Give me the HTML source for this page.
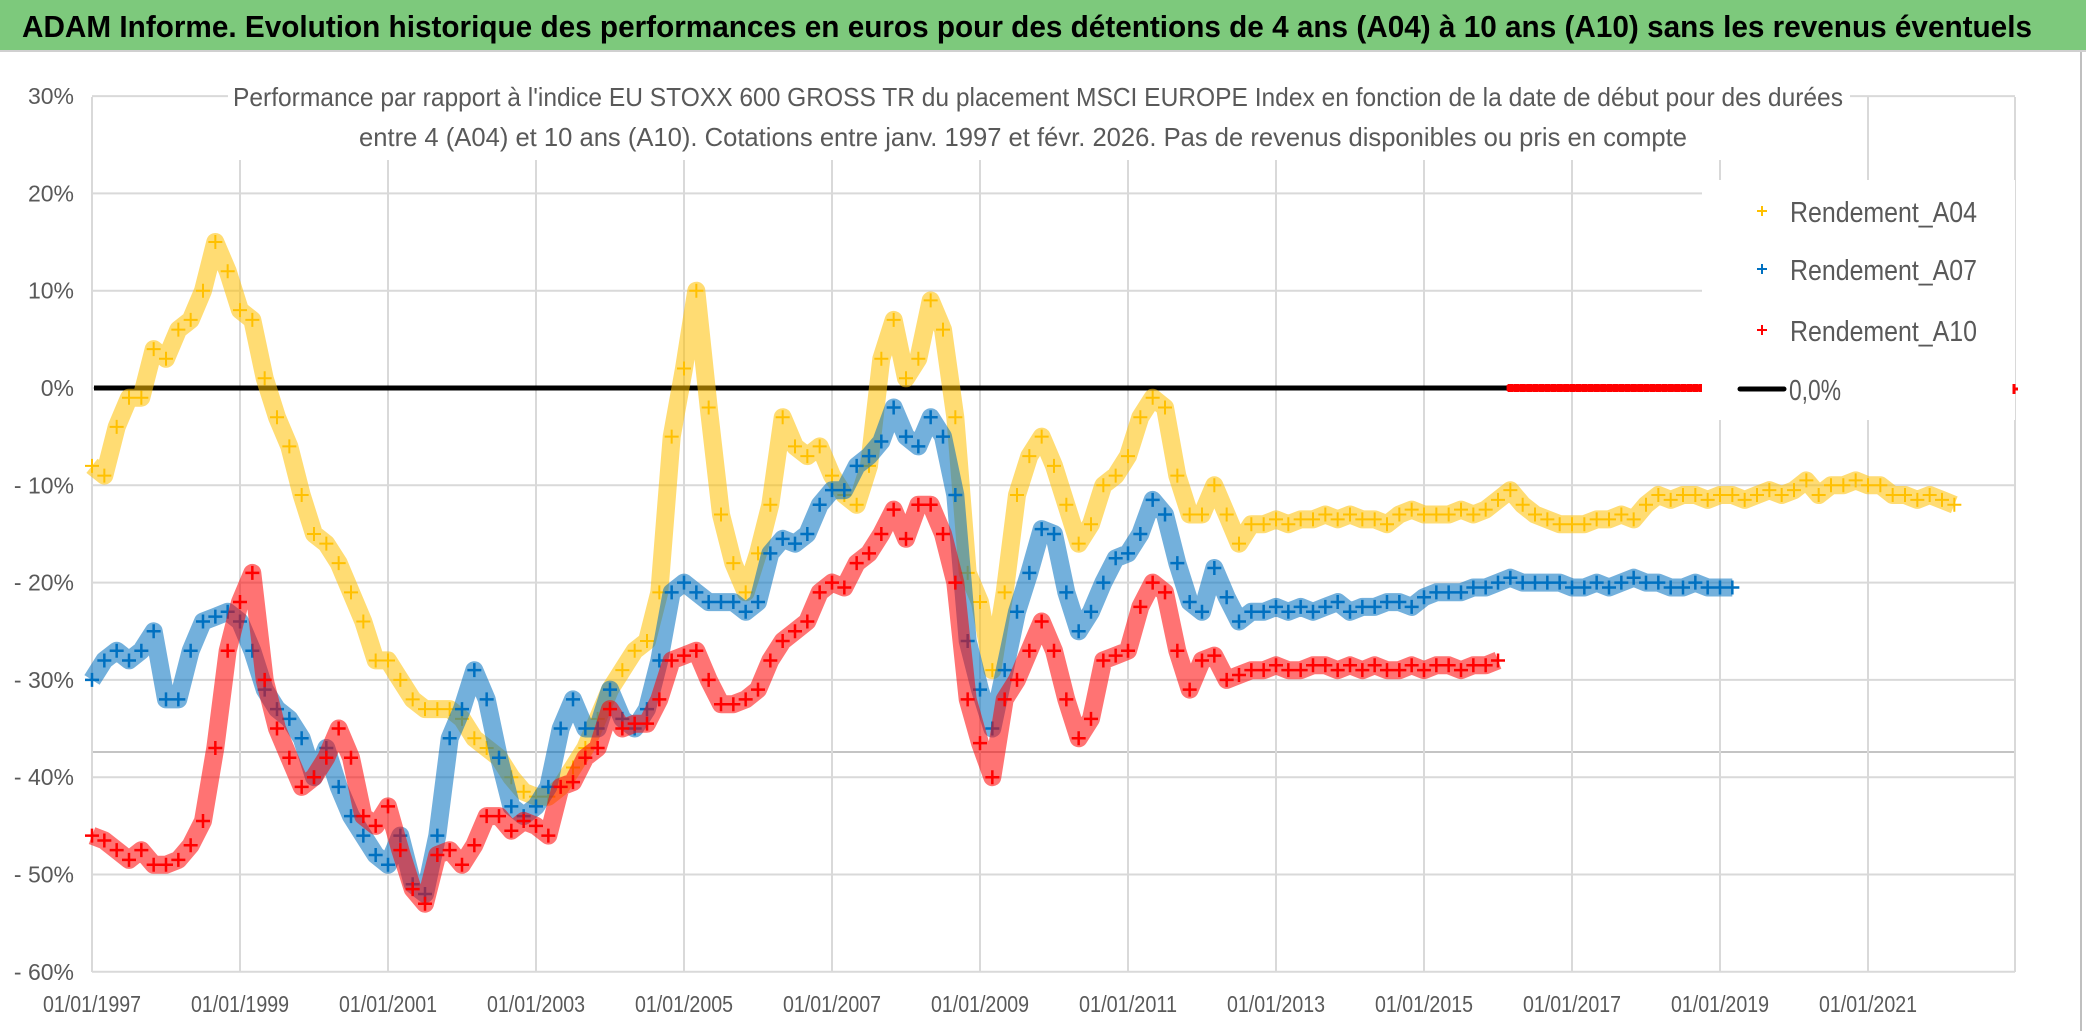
<!DOCTYPE html>
<html><head><meta charset="utf-8"><style>
html,body{margin:0;padding:0;background:#fff;}
svg{display:block;}
text{font-family:"Liberation Sans",sans-serif;}
</style></head><body>
<svg id="chart" width="2086" height="1031" viewBox="0 0 2086 1031" xmlns="http://www.w3.org/2000/svg">
<rect x="0" y="0" width="2086" height="1031" fill="#fff"/>
<rect x="0" y="0" width="2086" height="50" fill="#7dc97c"/>
<line x1="0" y1="51" x2="2086" y2="51" stroke="#d0d0d0" stroke-width="2"/>
<text x="22" y="37" font-size="31" font-weight="bold" fill="#000" textLength="2010" lengthAdjust="spacingAndGlyphs">ADAM Informe. Evolution historique des performances en euros pour des détentions de 4 ans (A04) à 10 ans (A10) sans les revenus éventuels</text>
<line x1="2081" y1="52" x2="2081" y2="1031" stroke="#bfbfbf" stroke-width="2"/>
<g id="grid"></g>
<g id="axes"></g>
<g id="series"></g>
<rect x="228" y="72" width="1622" height="88" fill="#fff"/>
<text x="233" y="106" font-size="26" fill="#595959" textLength="1610" lengthAdjust="spacingAndGlyphs">Performance par rapport à l'indice EU STOXX 600 GROSS TR  du placement MSCI EUROPE Index en fonction de la date de début pour des durées</text>
<text x="359" y="146" font-size="26" fill="#595959" textLength="1328" lengthAdjust="spacingAndGlyphs">entre 4 (A04) et 10 ans (A10). Cotations entre janv. 1997 et févr. 2026. Pas de revenus disponibles ou pris en compte</text>
<g id="legend"></g>
</svg>
<script>
// ---- data (values in %, sampled every 2 months from start year) ----
const yTicks = [30,20,10,0,-10,-20,-30,-40,-50,-60];
const yTickLabels = ["30%","20%","10%","0%","- 10%","- 20%","- 30%","- 40%","- 50%","- 60%"];
const xTickYears = [1997,1999,2001,2003,2005,2007,2009,2011,2013,2015,2017,2019,2021];
const xTickLabels = ["01/01/1997","01/01/1999","01/01/2001","01/01/2003","01/01/2005","01/01/2007","01/01/2009","01/01/2011","01/01/2013","01/01/2015","01/01/2017","01/01/2019","01/01/2021"];
const seriesStart = 1997;
const seriesStep = 1/6;
const a04Values = [-8,-9,-4,-1,-1,4,3,6,7,10,15,12,8,7,1,-3,-6,-11,-15,-16,-18,-21,-24,-28,-28,-30,-32,-33,-33,-33,-34,-36,-37,-38,-40,-41.5,-42,-42,-41,-39,-37,-34,-31,-29,-27,-26,-21,-5,2,10,-2,-13,-18,-21,-17,-12,-3,-6,-7,-6,-9,-11,-12,-8,3,7,1,3,9,6,-3,-19,-22,-29,-21,-11,-7,-5,-8,-12,-16,-14,-10,-9,-7,-3,-1,-2,-9,-13,-13,-10,-13,-16,-14,-14,-13.5,-14,-13.5,-13.5,-13,-13.5,-13,-13.5,-13.5,-14,-13,-12.5,-13,-13,-13,-12.5,-13,-12.5,-11.5,-10.5,-12,-13,-13.5,-14,-14,-14,-13.5,-13.5,-13,-13.5,-12,-11,-11.5,-11,-11,-11.5,-11,-11,-11.5,-11,-10.5,-11,-10.5,-9.5,-11,-10,-10,-9.5,-10,-10,-11,-11,-11.5,-11,-11.5,-12];
const a07Values = [-30,-28,-27,-28,-27,-25,-32,-32,-27,-24,-23.5,-23,-24,-27,-31,-33,-34,-36,-40,-37,-41,-44,-46,-48,-49,-46,-51,-52,-46,-36,-33,-29,-32,-38,-43,-44,-43,-41,-35,-32,-35,-35,-31,-34,-35,-33,-28,-21,-20,-21,-22,-22,-22,-23,-22,-17,-15.5,-16,-15,-12,-10.5,-10.5,-8,-7,-5.5,-2,-5,-6,-3,-5,-11,-26,-31,-35,-29,-23,-19,-14.5,-15,-21,-25,-23,-20,-17.5,-17,-15,-11.5,-13,-18,-22,-23,-18.5,-21.5,-24,-23,-23,-22.5,-23,-22.5,-23,-22.5,-22,-23,-22.5,-22.5,-22,-22,-22.5,-21.5,-21,-21,-21,-20.5,-20.5,-20,-19.5,-20,-20,-20,-20,-20.5,-20.5,-20,-20.5,-20,-19.5,-20,-20,-20.5,-20.5,-20,-20.5,-20.5,-20.5];
const a10Values = [-46,-46.5,-47.5,-48.5,-47.5,-49,-49,-48.5,-47,-44.5,-37,-27,-22,-19,-30,-35,-38,-41,-40,-38,-35,-38,-44,-45,-43,-47.5,-51.5,-53,-48,-47.5,-49,-47,-44,-44,-45.5,-44.5,-45,-46,-41,-40.5,-38,-37,-33,-35,-34.5,-34.5,-32,-28,-27.5,-27,-30,-32.5,-32.5,-32,-31,-28,-26,-25,-24,-21,-20,-20.5,-18,-17,-15,-12.5,-15.5,-12,-12,-15,-20,-32,-36.5,-40,-32,-30,-27,-24,-27,-32,-36,-34,-28,-27.5,-27,-22.5,-20,-21,-27,-31,-28,-27.5,-30,-29.5,-29,-29,-28.5,-29,-29,-28.5,-28.5,-29,-28.5,-29,-28.5,-29,-29,-28.5,-29,-28.5,-28.5,-29,-28.5,-28.5,-28];
const a10ZeroStart = 2016.17;
const a10ZeroStep = 1/12;
const a10ZeroValues = [0,0,0,0,0,0,0,0,0,0,0,0,0,0,0,0,0,0,0,0,0,0,0,0,0,0,0,0,0,0,0,0];
const zeroLineValue = 0;

// ---- scales ----
const X0 = 92, PX_PER_YEAR = 74, Y0 = 388, PX_PER_PCT = 9.73;
const PLOT_L = 92, PLOT_R = 2015, PLOT_T = 97, PLOT_B = 972;
function xs(year){ return X0 + (year - 1997) * PX_PER_YEAR; }
function ys(v){ return Y0 - v * PX_PER_PCT; }
const NS = "http://www.w3.org/2000/svg";
function mk(tag, attrs, parent){ const e = document.createElementNS(NS, tag); for (const k in attrs) e.setAttribute(k, attrs[k]); parent.appendChild(e); return e; }

const grid = document.getElementById('grid');
const axes = document.getElementById('axes');
yTicks.forEach((t, i) => {
  const l = mk('line', {x1: PLOT_L, x2: PLOT_R, y1: ys(t), y2: ys(t), stroke: '#d9d9d9', 'stroke-width': 2}, grid);
  
  
  const tx = mk('text', {x: 74, y: ys(t) + 8, 'font-size': 23, fill: '#595959', 'text-anchor': 'end'}, axes);
  tx.textContent = yTickLabels[i];
  
  
});
const extra = mk('line', {x1: PLOT_L, x2: PLOT_R, y1: 752, y2: 752, stroke: '#c4c4c4', 'stroke-width': 2}, grid);


xTickYears.forEach((yr, i) => {
  const l = mk('line', {x1: xs(yr), x2: xs(yr), y1: PLOT_T, y2: PLOT_B, stroke: '#d9d9d9', 'stroke-width': 2}, grid);
  
  
  const tx = mk('text', {x: xs(yr), y: 1012, 'font-size': 23, fill: '#595959', 'text-anchor': 'middle', textLength: 98, lengthAdjust: 'spacingAndGlyphs'}, axes);
  tx.textContent = xTickLabels[i];
  
  
});
const rl = mk('line', {x1: PLOT_R, x2: PLOT_R, y1: PLOT_T, y2: PLOT_B, stroke: '#d9d9d9', 'stroke-width': 2}, grid);



const seriesG = document.getElementById('series');
const zl = mk('line', {x1: 94, x2: PLOT_R, y1: ys(zeroLineValue), y2: ys(zeroLineValue), stroke: '#000', 'stroke-width': 5}, seriesG);



function drawSeries(values, start, step, color, name, arm, sw, band){
  const g = mk('g', {}, seriesG);
  
  
  if (band) {
    const pts = values.map((v, i) => xs(start + i * step).toFixed(1) + ',' + ys(v).toFixed(1)).join(' ');
    const pl = mk('polyline', {points: pts, fill: 'none', stroke: color, 'stroke-width': 18, 'stroke-opacity': 0.55, 'stroke-linejoin': 'round'}, g);
    
    
  }
  let d = '';
  values.forEach((v, i) => {
    const x = xs(start + i * step), y = ys(v);
    d += 'M' + (x - arm) + ' ' + y + 'H' + (x + arm) + 'M' + x + ' ' + (y - arm) + 'V' + (y + arm);
  });
  const p = mk('path', {d: d, stroke: color, 'stroke-width': sw, fill: 'none'}, g);
  
  
}
drawSeries(a04Values, seriesStart, seriesStep, '#ffc000', 'series-a04', 7, 2, true);
drawSeries(a07Values, seriesStart, seriesStep, '#0070c0', 'series-a07', 7, 2.5, true);
drawSeries(a10Values, seriesStart, seriesStep, '#ff0000', 'series-a10', 7, 2.5, true);
drawSeries(a10ZeroValues, a10ZeroStart, a10ZeroStep, '#ff0000', 'series-a10-zero', 4, 6, false);

// ---- legend ----
const lg = document.getElementById('legend');
const lbg = mk('rect', {x: 1702, y: 180, width: 313, height: 240, fill: '#fff'}, lg);


const legendNames = ['Rendement_A04','Rendement_A07','Rendement_A10'];
const legendColors = ['#ffc000','#0070c0','#ff0000'];
const legendRows = [211, 269, 330];
legendNames.forEach((n, i) => {
  const y = legendRows[i];
  const m = mk('path', {d: 'M1757 ' + y + 'H1767M1762 ' + (y - 5) + 'V' + (y + 5), stroke: legendColors[i], 'stroke-width': 2}, lg);
  
  
  const t = mk('text', {x: 1790, y: y + 11, 'font-size': 29, fill: '#595959', textLength: 187, lengthAdjust: 'spacingAndGlyphs'}, lg);
  t.textContent = n;
  
  
});
const zm = mk('line', {x1: 1740, x2: 1784, y1: 389, y2: 389, stroke: '#000', 'stroke-width': 5, 'stroke-linecap': 'round'}, lg);


const zt = mk('text', {x: 1789, y: 400, 'font-size': 29, fill: '#595959', textLength: 52, lengthAdjust: 'spacingAndGlyphs'}, lg);
zt.textContent = '0,0%';


const rm = mk('path', {d: 'M2014 384V394M2014 389H2018', stroke: '#ff0000', 'stroke-width': 3}, lg);


</script>
</body></html>
